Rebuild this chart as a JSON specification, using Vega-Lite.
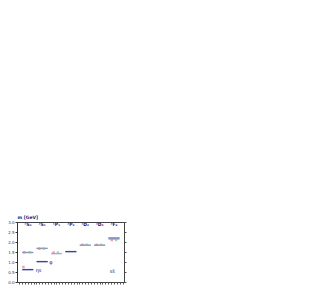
{
  "$schema": "https://vega.github.io/schema/vega-lite/v6.json",
  "autosize": {"type": "none"},
  "padding": {"left": 17, "top": 222, "right": 186, "bottom": 9},
  "width": 107,
  "height": 60,
  "config": {"view": {"stroke": "#444"}, "font": "DejaVu Sans", "axis": {"grid": false}},
  "datasets": {
    "levels": [
      {"col": 0, "m": 1.475, "kind": "lattice"},
      {"col": 0, "m": 0.62, "kind": "exp"},
      {"col": 1, "m": 1.68, "kind": "lattice"},
      {"col": 1, "m": 1.02, "kind": "exp"},
      {"col": 2, "m": 1.42, "kind": "model"},
      {"col": 3, "m": 1.52, "kind": "exp"},
      {"col": 4, "m": 1.84, "kind": "lattice"},
      {"col": 5, "m": 1.84, "kind": "lattice"},
      {"col": 6, "m": 2.21, "kind": "lattice"},
      {"col": 6, "m": 2.16, "kind": "lattice"}
    ],
    "points": [
      {"x": -0.25, "m": 1.49, "set": "A"},
      {"x": 0.15, "m": 1.49, "set": "B"},
      {"x": -0.3, "m": 0.75, "set": "A"},
      {"x": 0.8, "m": 1.67, "set": "A"},
      {"x": 1.1, "m": 1.67, "set": "B"},
      {"x": 1.8, "m": 1.47, "set": "A"},
      {"x": 2.1, "m": 1.47, "set": "B"},
      {"x": 3.8, "m": 1.86, "set": "A"},
      {"x": 4.1, "m": 1.86, "set": "B"},
      {"x": 4.8, "m": 1.86, "set": "A"},
      {"x": 5.1, "m": 1.86, "set": "B"},
      {"x": 5.85, "m": 2.1, "set": "A"},
      {"x": 6.15, "m": 2.1, "set": "B"}
    ],
    "labels": [
      {"col": 0, "t": "¹S₀"},
      {"col": 1, "t": "³S₁"},
      {"col": 2, "t": "¹P₁"},
      {"col": 3, "t": "³P₂"},
      {"col": 4, "t": "¹D₂"},
      {"col": 5, "t": "³D₃"},
      {"col": 6, "t": "³F₄"}
    ],
    "names": [
      {"x": 0.55, "m": 0.6, "t": "ηs"},
      {"x": 1.5, "m": 1.02, "t": "φ"},
      {"x": 5.7, "m": 0.56, "t": "ss̄"}
    ]
  },
  "resolve": {"axis": {"y": "independent"}},
  "layer": [
    {
      "data": {"name": "levels"},
      "mark": {"type": "tick", "orient": "horizontal", "size": 11, "thickness": 1.3},
      "encoding": {
        "x": {"field": "col", "type": "quantitative",
              "scale": {"domain": [-0.75, 6.7], "nice": false},
              "axis": {"labels": false, "title": null, "tickCount": 30, "tickSize": 2, "domain": false, "tickColor": "#555"}},
        "y": {"field": "m", "type": "quantitative",
              "scale": {"domain": [0, 3], "nice": false},
              "axis": {"values": [0, 0.5, 1, 1.5, 2, 2.5, 3], "format": ".1f", "labelFontSize": 4, "tickSize": 2,
                       "labelPadding": 1, "labelColor": "#333", "domainColor": "#333", "tickColor": "#333",
                       "title": "m [GeV]", "titleAngle": 0, "titleX": 0, "titleY": -3, "titleAlign": "left",
                       "titleBaseline": "bottom", "titleFontSize": 4.5, "titleColor": "#1a237e", "titleFontWeight": "bold"}},
        "color": {"field": "kind", "type": "nominal", "legend": null,
                  "scale": {"domain": ["lattice", "exp", "model"], "range": ["#7b8fc0", "#22309a", "#b0a0d8"]}}
      }
    },
    {
      "data": {"name": "levels"},
      "mark": {"type": "tick", "orient": "horizontal", "size": 11, "thickness": 1.3},
      "encoding": {
        "x": {"field": "col", "type": "quantitative"},
        "y": {"field": "m", "type": "quantitative",
              "axis": {"orient": "right", "labels": false, "title": null, "values": [0, 0.5, 1, 1.5, 2, 2.5, 3], "tickSize": 2, "domainColor": "#444", "tickColor": "#555"}},
        "color": {"field": "kind", "type": "nominal", "legend": null}
      }
    },
    {
      "data": {"name": "points"},
      "mark": {"type": "point", "shape": "square", "size": 6, "filled": true},
      "encoding": {
        "x": {"field": "x", "type": "quantitative"},
        "y": {"field": "m", "type": "quantitative", "axis": null},
        "fill": {"field": "set", "type": "nominal", "legend": null,
                 "scale": {"domain": ["A", "B"], "range": ["#e07a8a", "#7cc48a"]}}
      }
    },
    {
      "data": {"name": "labels"},
      "mark": {"type": "text", "fontSize": 4.5, "color": "#1a237e", "fontWeight": "bold"},
      "encoding": {
        "x": {"field": "col", "type": "quantitative"},
        "y": {"datum": 2.85, "axis": null},
        "text": {"field": "t"}
      }
    },
    {
      "data": {"name": "names"},
      "mark": {"type": "text", "fontSize": 5, "color": "#1a237e", "align": "left"},
      "encoding": {
        "x": {"field": "x", "type": "quantitative"},
        "y": {"field": "m", "type": "quantitative", "axis": null},
        "text": {"field": "t"}
      }
    }
  ]
}
